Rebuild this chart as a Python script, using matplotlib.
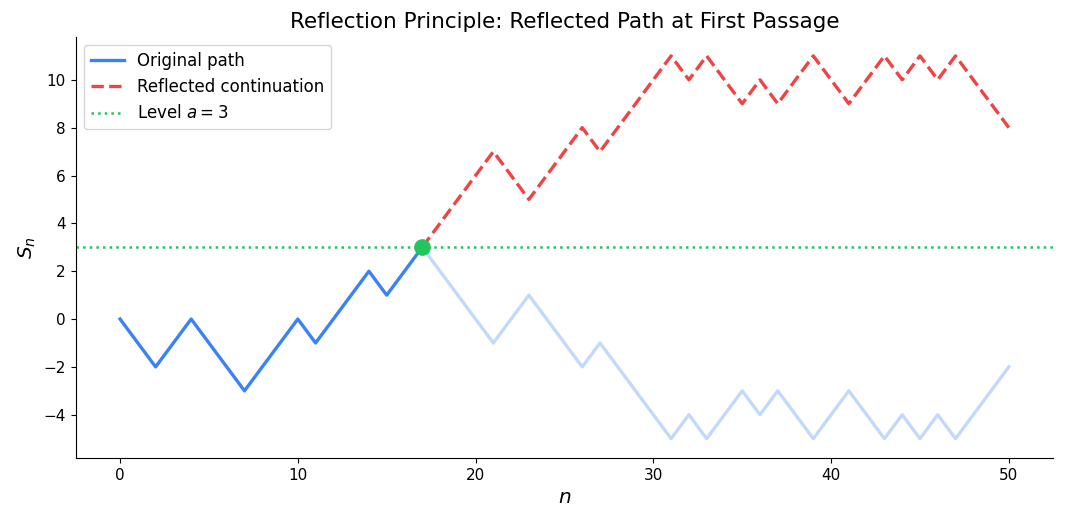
import numpy as np
import matplotlib.pyplot as plt

# random walk S_0..S_50
walk = [0, -1, -2, -1, 0, -1, -2, -3, -2, -1,
        0, -1, 0, 1, 2, 1, 2, 3, 2, 1,
        0, -1, 0, 1, 0, -1, -2, -1, -2, -3,
        -4, -5, -4, -5, -4, -3, -4, -3, -4, -5,
        -4, -3, -4, -5, -4, -5, -4, -5, -4, -3,
        -2]
level = 3
hit = 17

S = np.array(walk)
n = np.arange(len(S))
reflected = 2 * level - S[hit:]

fig, ax = plt.subplots(figsize=(10.65, 5.25), dpi=100)

ax.plot(n[:hit + 1], S[:hit + 1], color="#3b82f6", linewidth=2.4, label="Original path")
ax.plot(n[hit:], S[hit:], color="#3b82f6", linewidth=2.4, alpha=0.3)
ax.plot(n[hit:], reflected, color="#ef4444", linewidth=2.4, linestyle="--", label="Reflected continuation")
ax.axhline(level, color="#22c55e", linewidth=1.8, linestyle=":", label=f"Level $a = {level}$")
ax.plot(hit, level, "o", color="#22c55e", markersize=11, zorder=5)

ax.set_title("Reflection Principle: Reflected Path at First Passage", fontsize=15.5)
ax.set_xlabel("$n$", fontsize=14.5)
ax.set_ylabel("$S_n$", fontsize=14.5)
ax.tick_params(labelsize=11)
ax.spines["top"].set_visible(False)
ax.spines["right"].set_visible(False)
ax.legend(loc="upper left", fontsize=12)

fig.subplots_adjust(left=0.071, right=0.989, top=0.93, bottom=0.128)
fig.savefig("out.png", dpi=100)
